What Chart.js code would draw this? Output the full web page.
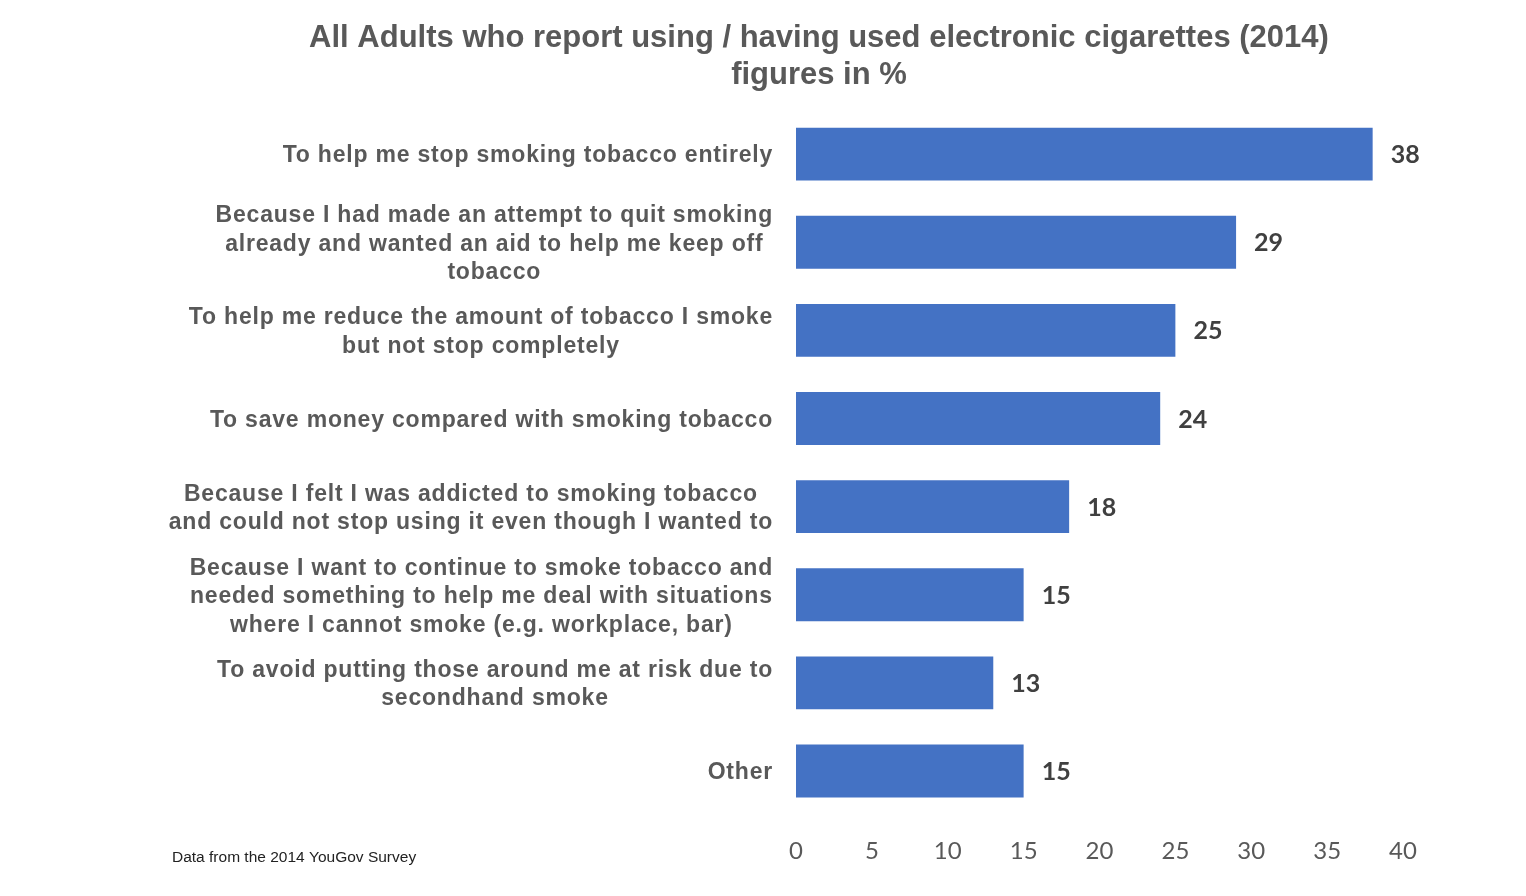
<!DOCTYPE html>
<html>
<head>
<meta charset="utf-8">
<title>E-cigarette use reasons 2014</title>
<script src="https://cdn.jsdelivr.net/npm/chart.js@4"></script>
<style>
    html, body { margin: 0; padding: 0; background: #ffffff; }
    #wrap { width: 1526px; height: 896px; position: relative; }
</style>
</head>
<body>
<div id="wrap"><canvas id="reasonsChart"></canvas></div>
<script>
// Data
const categories = [
    ['To help me stop smoking tobacco entirely'],
    ['Because I had made an attempt to quit smoking', 'already and wanted an aid to help me keep off', 'tobacco'],
    ['To help me reduce the amount of tobacco I smoke', 'but not stop completely'],
    ['To save money compared with smoking tobacco'],
    ['Because I felt I was addicted to smoking tobacco', 'and could not stop using it even though I wanted to'],
    ['Because I want to continue to smoke tobacco and', 'needed something to help me deal with situations', 'where I cannot smoke (e.g. workplace, bar)'],
    ['To avoid putting those around me at risk due to', 'secondhand smoke'],
    ['Other']
];
const percentages = [38, 29, 25, 24, 18, 15, 13, 15];
const xTicks = [0, 5, 10, 15, 20, 25, 30, 35, 40];
const titleLines = ['All Adults who report using / having used electronic cigarettes (2014)', 'figures in %'];
const footnote = 'Data from the 2014 YouGov Survey';

const LABEL_FONT = 'bold 23px "Liberation Sans", Arial, sans-serif';
const GREY = '#595959';

// Title, footnote and wrapped category labels
const textPlugin = {
    id: 'textPlugin',
    afterDraw(chart) {
        const ctx = chart.ctx;
        const yScale = chart.scales.y;
        ctx.save();

        // title
        ctx.fillStyle = GREY;
        ctx.font = 'bold 31px "Liberation Sans", Arial, sans-serif';
        ctx.textAlign = 'center';
        ctx.textBaseline = 'middle';
        titleLines.forEach((line, i) => ctx.fillText(line, 819, 38 + i * 37));

        // category labels: block right-aligned, lines centred in block
        ctx.font = LABEL_FONT;
        ctx.letterSpacing = '0.8px';
        const rightEdge = chart.chartArea.left - 23;
        categories.forEach((lines, i) => {
            const yc = yScale.getPixelForTick(i) + 2;
            const maxW = Math.max(...lines.map(l => ctx.measureText(l).width));
            const xc = rightEdge - maxW / 2;
            const lh = 28.5;
            const y0 = yc - (lines.length - 1) * lh / 2;
            lines.forEach((l, j) => ctx.fillText(l, xc, y0 + j * lh));
        });
        ctx.letterSpacing = '0px';

        // footnote
        ctx.fillStyle = '#222222';
        ctx.font = '15.5px "Liberation Sans", Arial, sans-serif';
        ctx.textAlign = 'left';
        ctx.fillText(footnote, 172, 858);
        ctx.restore();
    },
    afterDatasetsDraw(chart) {
        const ctx = chart.ctx;
        const meta = chart.getDatasetMeta(0);
        ctx.save();
        ctx.fillStyle = '#404040';
        ctx.font = 'bold 25px Lato, "Open Sans", sans-serif';
        ctx.textAlign = 'left';
        ctx.textBaseline = 'middle';
        meta.data.forEach((bar, i) => {
            ctx.fillText(String(percentages[i]), bar.x + 18, bar.y + 1);
        });
        ctx.restore();
    }
};

new Chart(document.getElementById('reasonsChart'), {
    type: 'bar',
    data: {
        labels: categories,
        datasets: [{
            data: percentages,
            backgroundColor: '#4472C4',
            borderWidth: 0,
            categoryPercentage: 1,
            barPercentage: 0.6
        }]
    },
    options: {
        indexAxis: 'y',
        responsive: true,
        maintainAspectRatio: false,
        animation: false,
        layout: {
            padding: { top: 110, right: 123, bottom: 0, left: 0 }
        },
        plugins: {
            legend: { display: false },
            tooltip: { enabled: false },
            title: { display: false }
        },
        scales: {
            x: {
                min: 0,
                max: 40,
                afterBuildTicks(scale) {
                    scale.ticks = xTicks.map(v => ({ value: v }));
                },
                afterFit(scale) { scale.height = 81; },
                grid: { display: false },
                border: { display: false },
                ticks: {
                    padding: 14,
                    color: GREY,
                    font: { family: 'Lato, "Open Sans", sans-serif', size: 24 }
                }
            },
            y: {
                afterFit(scale) { scale.width = 796; },
                grid: { display: false },
                border: { display: false },
                ticks: { display: false }
            }
        }
    },
    plugins: [textPlugin]
});
</script>
</body>
</html>
